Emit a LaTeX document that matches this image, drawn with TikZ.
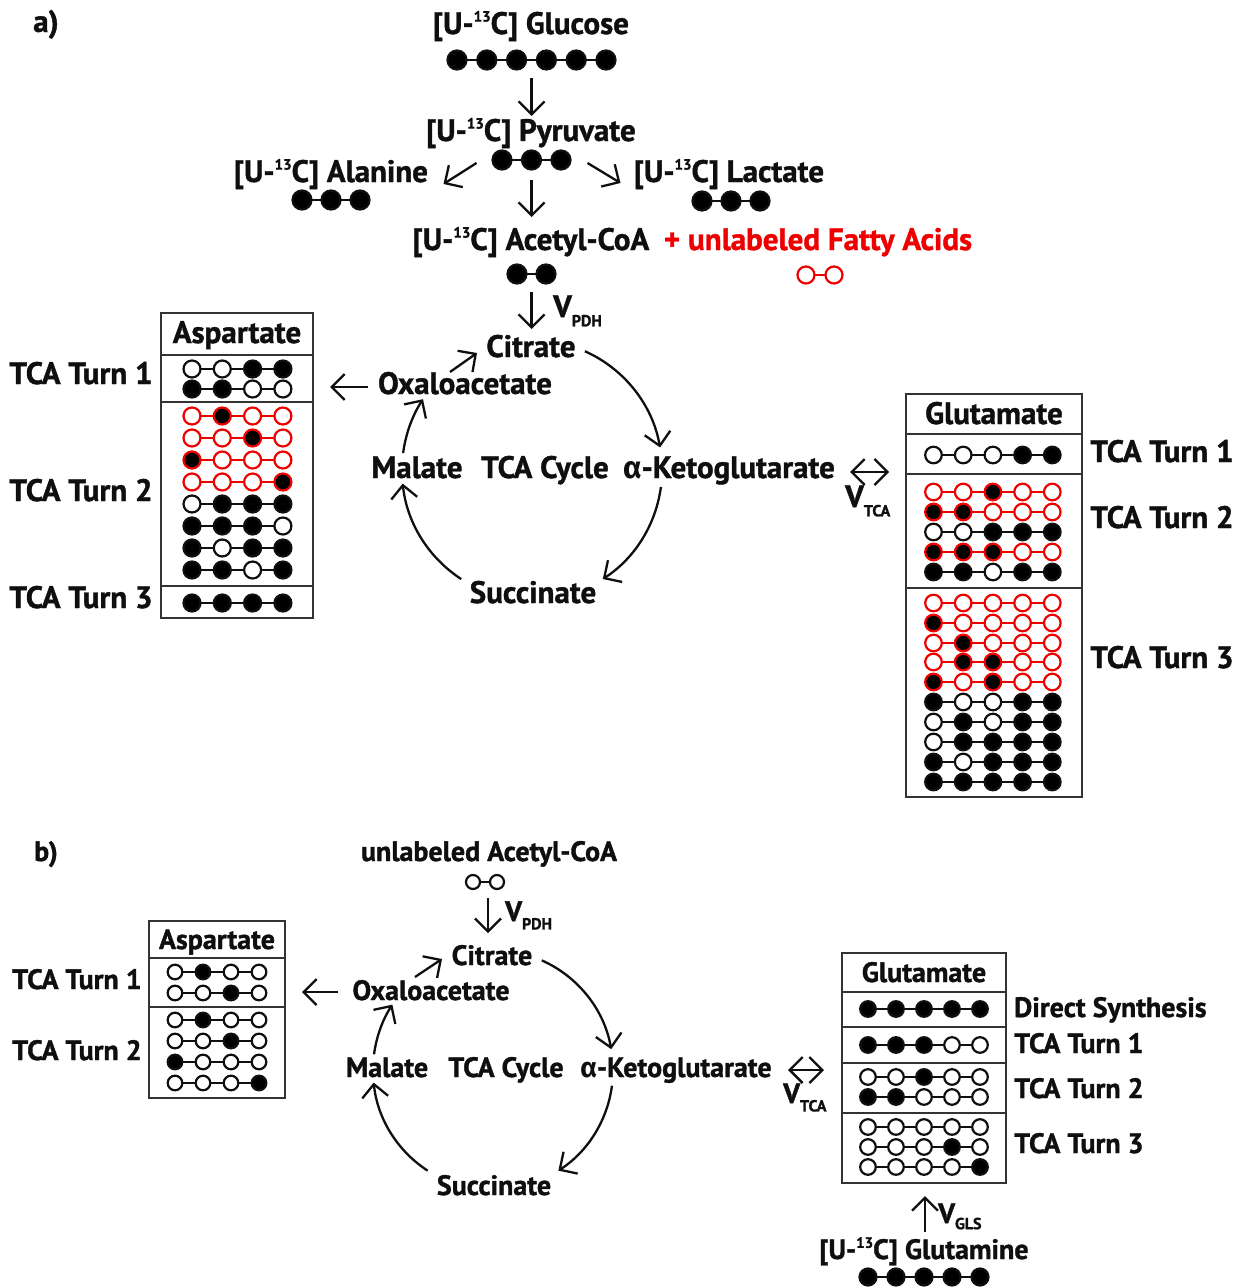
\documentclass[tikz,border=0pt]{standalone}
\usepackage{fontspec}
\setmainfont{PT Sans}[BoldFeatures={FakeBold=1.2}]
\newfontfamily\gkfont{Fira Sans}
\usetikzlibrary{arrows.meta}
\definecolor{ink}{RGB}{15,15,15}
\definecolor{rd}{RGB}{238,0,0}
\newcommand\myUC{[U-\raisebox{0.4em}{\fontsize{15}{15}\selectfont 13}C]}
\newcommand\myV[1]{V\raisebox{-0.3em}{\fontsize{16}{16}\selectfont #1}}
\newcommand\mchain[6]{%
 \foreach \v [count=\i from 0] in {#6}{\ifnum\i>0 \draw[#5,line width=2.2pt] ({#1+(\i-1)*#3},{-#2}) -- ({#1+\i*#3},{-#2});\fi}%
 \foreach \v [count=\i from 0] in {#6}{\ifnum\v=1 \filldraw[fill=black,draw=#5,line width=2.2pt] ({#1+\i*#3},{-#2}) circle[radius=#4];\else \filldraw[fill=white,draw=#5,line width=2.2pt] ({#1+\i*#3},{-#2}) circle[radius=#4];\fi}%
}
\begin{document}
\begin{tikzpicture}[x=1pt,y=1pt,
 lbl/.style={inner sep=0pt, anchor=base, text=ink, font=\bfseries\fontsize{31}{36}\selectfont},
 lblb/.style={inner sep=0pt, anchor=base, text=ink, font=\bfseries\fontsize{28}{33}\selectfont},
 arr/.style={draw=ink, line width=2.3pt, -{Straight Barb[length=13pt,width=26pt]}},
 darr/.style={draw=ink, line width=2.3pt, {Straight Barb[length=13pt,width=26pt]}-{Straight Barb[length=13pt,width=26pt]}},
 boxn/.style={draw=black!80, line width=2.8pt, inner sep=0pt},
 boxl/.style={draw=black!80, line width=2.8pt},
 chn/.style={inner sep=0pt, minimum height=19pt}]
\useasboundingbox (0,0) rectangle (1240,-1287);
\fill[white] (0,0) rectangle (1240,-1287);

% ================= (a) =================
\node[lbl] (la) at (46,-32) {a)};
\node[lbl] (glc) at (531,-34) {\myUC{} Glucose};
\mchain{457}{60}{29.8}{9.5}{ink}{1,1,1,1,1,1}
\node[chn, minimum width=168pt] (glcC) at (531.5,-60) {};
\node[lbl] (pyr) at (531,-141) {\myUC{} Pyruvate};
\mchain{502}{160}{29.5}{9.5}{ink}{1,1,1}
\node[chn, minimum width=78pt] (pyrC) at (531.5,-160) {};
\node[lbl] (ala) at (331,-182) {\myUC{} Alanine};
\mchain{302}{200}{29}{9.5}{ink}{1,1,1}
\node[lbl] (lac) at (729,-182) {\myUC{} Lactate};
\mchain{702}{201}{29}{9.5}{ink}{1,1,1}
\node[lbl] (acoa) at (531,-250) {\myUC{} Acetyl-CoA};
\node[lbl, text=rd] (fatty) at (818,-250) {+ unlabeled Fatty Acids};
\mchain{517}{274}{29}{9.5}{ink}{1,1}
\node[chn, minimum width=48pt] (acC) at (531.5,-274) {};
\mchain{806}{275}{28}{8.5}{rd}{0,0}
\node[lbl, anchor=base west] (vpdh) at (553,-317) {\myV{PDH}};

\draw[arr] (glcC.center) ++(0,-18) -- ++(0,-38);
\draw[arr] (pyrC.center) ++(-55,-3) -- ++(-33,-21);
\draw[arr] (pyrC.center) ++(56,-3) -- ++(33,-20);
\draw[arr] (pyrC.center) ++(0,-20) -- ++(0,-37);
\draw[arr] (acC.center) ++(0,-18) -- ++(0,-37);

\node[lbl] (cit) at (531,-357) {Citrate};
\node[lbl] (oxa) at (465,-394) {Oxaloacetate};
\node[lbl] (mal) at (417,-478) {Malate};
\node[lbl] (tca) at (545,-478) {TCA Cycle};
\node[lbl] (akg) at (729,-478) {{\gkfont α}-Ketoglutarate};
\node[lbl] (suc) at (533,-603) {Succinate};
\coordinate (cycA) at (532,-470);
\draw[arr] (cycA) ++(66:130) arc[start angle=66, end angle=10, radius=130];
\draw[arr] (cycA) ++(-7.5:130) arc[start angle=-7.5, end angle=-57, radius=130];
\draw[arr] (cycA) ++(-123:130) arc[start angle=-123, end angle=-174, radius=130];
\draw[arr] (cycA) ++(172.5:130) arc[start angle=172.5, end angle=147, radius=130];
\draw[arr] (oxa.base) ++(-15,22) -- ++(27,19);
\draw[arr] (oxa.base) ++(-97,7) -- ++(-38,0);
\draw[darr] (akg.base) ++(121,6) -- ++(39,0);
\node[lbl, anchor=base west] (vtca) at (845,-507) {\myV{TCA}};

% Aspartate box (a)
\node[boxn, minimum width=152pt, minimum height=305pt] (aspA) at (237,-465.5) {};
\draw[boxl] (161,-355) -- (313,-355);
\draw[boxl] (161,-402) -- (313,-402);
\draw[boxl] (161,-586) -- (313,-586);
\node[lbl] (aspAh) at (237,-343) {Aspartate};
\mchain{192}{369}{30.3}{8.5}{ink}{0,0,1,1}
\mchain{192}{389}{30.3}{8.5}{ink}{1,1,0,0}
\mchain{192}{416}{30.3}{8.5}{rd}{0,1,0,0}
\mchain{192}{438}{30.3}{8.5}{rd}{0,0,1,0}
\mchain{192}{460}{30.3}{8.5}{rd}{1,0,0,0}
\mchain{192}{482}{30.3}{8.5}{rd}{0,0,0,1}
\mchain{192}{504}{30.3}{8.5}{ink}{0,1,1,1}
\mchain{192}{526}{30.3}{8.5}{ink}{1,1,1,0}
\mchain{192}{548}{30.3}{8.5}{ink}{1,0,1,1}
\mchain{192}{570}{30.3}{8.5}{ink}{1,1,0,1}
\mchain{192}{603}{30.3}{8.5}{ink}{1,1,1,1}
\node[lbl] (tA1) at (81,-384) {TCA Turn 1};
\node[lbl] (tA2) at (81,-501) {TCA Turn 2};
\node[lbl] (tA3) at (81,-608) {TCA Turn 3};

% Glutamate box (a)
\node[boxn, minimum width=176pt, minimum height=403pt] (gluA) at (994,-595.5) {};
\draw[boxl] (906,-434) -- (1082,-434);
\draw[boxl] (906,-474) -- (1082,-474);
\draw[boxl] (906,-588) -- (1082,-588);
\node[lbl] (gluAh) at (994,-424) {Glutamate};
\mchain{933.5}{455}{29.7}{8.3}{ink}{0,0,0,1,1}
\mchain{933.5}{492}{29.7}{8.3}{rd}{0,0,1,0,0}
\mchain{933.5}{512}{29.7}{8.3}{rd}{1,1,0,0,0}
\mchain{933.5}{532}{29.7}{8.3}{ink}{0,0,1,1,1}
\mchain{933.5}{552}{29.7}{8.3}{rd}{1,1,1,0,0}
\mchain{933.5}{572}{29.7}{8.3}{ink}{1,1,0,1,1}
\mchain{933.5}{603}{29.7}{8.3}{rd}{0,0,0,0,0}
\mchain{933.5}{623}{29.7}{8.3}{rd}{1,0,0,0,0}
\mchain{933.5}{643}{29.7}{8.3}{rd}{0,1,0,0,0}
\mchain{933.5}{662}{29.7}{8.3}{rd}{0,1,1,0,0}
\mchain{933.5}{682}{29.7}{8.3}{rd}{1,0,1,0,0}
\mchain{933.5}{702}{29.7}{8.3}{ink}{1,0,0,1,1}
\mchain{933.5}{722}{29.7}{8.3}{ink}{0,1,0,1,1}
\mchain{933.5}{742}{29.7}{8.3}{ink}{0,1,1,1,1}
\mchain{933.5}{762}{29.7}{8.3}{ink}{1,0,1,1,1}
\mchain{933.5}{782}{29.7}{8.3}{ink}{1,1,1,1,1}
\node[lbl] (tG1) at (1162,-462) {TCA Turn 1};
\node[lbl] (tG2) at (1162,-528) {TCA Turn 2};
\node[lbl] (tG3) at (1162,-668) {TCA Turn 3};

% ================= (b) =================
\node[lblb] (lb) at (46,-861) {b)};
\node[lblb] (uacoa) at (489,-861) {unlabeled Acetyl-CoA};
\mchain{473}{882}{24}{7}{ink}{0,0}
\node[chn, minimum width=38pt, minimum height=14pt] (acB) at (485,-882) {};
\draw[arr] (acB.center) ++(3,-16) -- ++(0,-35);
\node[lblb, anchor=base west] (vpdhb) at (505,-921) {\myV{PDH}};

\node[lblb] (citb) at (492,-965) {Citrate};
\node[lblb] (oxab) at (431,-1000) {Oxaloacetate};
\node[lblb] (malb) at (387,-1077) {Malate};
\node[lblb] (tcab) at (506,-1077) {TCA Cycle};
\node[lblb] (akgb) at (676,-1077) {{\gkfont α}-Ketoglutarate};
\node[lblb] (sucb) at (494,-1195) {Succinate};
\coordinate (cycB) at (493,-1070);
\draw[arr] (cycB) ++(66:120) arc[start angle=66, end angle=10, radius=120];
\draw[arr] (cycB) ++(-7.5:120) arc[start angle=-7.5, end angle=-57, radius=120];
\draw[arr] (cycB) ++(-123:120) arc[start angle=-123, end angle=-174, radius=120];
\draw[arr] (cycB) ++(172.5:120) arc[start angle=172.5, end angle=147, radius=120];
\draw[arr] (oxab.base) ++(-16,23) -- ++(27,18);
\draw[arr] (oxab.base) ++(-93,8) -- ++(-36,0);
\draw[darr] (akgb.base) ++(112,7) -- ++(36,0);
\node[lblb, anchor=base west] (vtcab) at (783,-1103) {\myV{TCA}};

% Aspartate box (b)
\node[boxn, minimum width=136pt, minimum height=177pt] (aspB) at (217,-1009.5) {};
\draw[boxl] (149,-958) -- (285,-958);
\draw[boxl] (149,-1007) -- (285,-1007);
\node[lblb] (aspBh) at (217,-949) {Aspartate};
\mchain{175}{972}{28}{7.3}{ink}{0,1,0,0}
\mchain{175}{993}{28}{7.3}{ink}{0,0,1,0}
\mchain{175}{1020}{28}{7.3}{ink}{0,1,0,0}
\mchain{175}{1041}{28}{7.3}{ink}{0,0,1,0}
\mchain{175}{1062}{28}{7.3}{ink}{1,0,0,0}
\mchain{175}{1083}{28}{7.3}{ink}{0,0,0,1}
\node[lblb] (tB1) at (77,-989) {TCA Turn 1};
\node[lblb] (tB2) at (77,-1060) {TCA Turn 2};

% Glutamate box (b)
\node[boxn, minimum width=164pt, minimum height=230pt] (gluB) at (924,-1068) {};
\draw[boxl] (842,-992) -- (1006,-992);
\draw[boxl] (842,-1027) -- (1006,-1027);
\draw[boxl] (842,-1063) -- (1006,-1063);
\draw[boxl] (842,-1113) -- (1006,-1113);
\node[lblb] (gluBh) at (924,-982) {Glutamate};
\mchain{868}{1009}{28}{7.8}{ink}{1,1,1,1,1}
\mchain{868}{1045}{28}{7.8}{ink}{1,1,1,0,0}
\mchain{868}{1077}{28}{7.8}{ink}{0,0,1,0,0}
\mchain{868}{1097}{28}{7.8}{ink}{1,1,0,0,0}
\mchain{868}{1127}{28}{7.8}{ink}{0,0,0,0,0}
\mchain{868}{1147}{28}{7.8}{ink}{0,0,0,1,0}
\mchain{868}{1167}{28}{7.8}{ink}{0,0,0,0,1}
\node[lblb, anchor=base west] (dsB) at (1014,-1017) {Direct Synthesis};
\node[lblb, anchor=base west] (tC1) at (1014,-1053) {TCA Turn 1};
\node[lblb, anchor=base west] (tC2) at (1014,-1098) {TCA Turn 2};
\node[lblb, anchor=base west] (tC3) at (1014,-1153) {TCA Turn 3};

\node[lblb] (gln) at (924,-1259) {\myUC{} Glutamine};
\mchain{868}{1277}{28}{8.5}{ink}{1,1,1,1,1}
\draw[arr] (gln.base) ++(1,27) -- ++(0,36);
\node[lblb, anchor=base west] (vgls) at (938,-1223) {V\raisebox{-0.22em}{\fontsize{16}{16}\selectfont GLS}};
\end{tikzpicture}
\end{document}
